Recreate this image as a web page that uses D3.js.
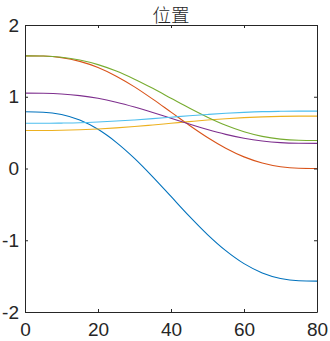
<!DOCTYPE html>
<html>
<head>
<meta charset="utf-8">
<script src="https://cdn.jsdelivr.net/npm/d3@7"></script>
<style>
  html, body { margin: 0; padding: 0; background: #fff; }
  svg { display: block; }
  .tick text { font-family: "Liberation Sans", Arial, sans-serif; font-size: 19px; fill: #262626; }
</style>
</head>
<body>
<svg id="chart" width="330" height="341"></svg>
<script>
// Sample instants (x axis)
const xs = [0, 5, 10, 15, 20, 25, 30, 35, 40, 45, 50, 55, 60, 65, 70, 75, 80];

// Joint positions, one array per joint
const joint1 = [0.79, 0.785, 0.752, 0.675, 0.546, 0.365, 0.141, -0.116, -0.39, -0.664, -0.921, -1.145, -1.326, -1.455, -1.532, -1.565, -1.57];
const joint2 = [1.57, 1.567, 1.545, 1.493, 1.408, 1.287, 1.138, 0.967, 0.785, 0.603, 0.432, 0.283, 0.162, 0.077, 0.025, 0.003, 0.0];
const joint3 = [0.53, 0.530, 0.533, 0.540, 0.551, 0.566, 0.585, 0.607, 0.63, 0.653, 0.675, 0.694, 0.709, 0.720, 0.727, 0.730, 0.73];
const joint4 = [1.05, 1.048, 1.039, 1.016, 0.978, 0.924, 0.857, 0.781, 0.70, 0.619, 0.543, 0.476, 0.422, 0.384, 0.361, 0.352, 0.35];
const joint5 = [1.57, 1.567, 1.551, 1.512, 1.448, 1.358, 1.245, 1.117, 0.98, 0.843, 0.715, 0.602, 0.512, 0.448, 0.409, 0.393, 0.39];
const joint6 = [0.63, 0.630, 0.633, 0.638, 0.648, 0.661, 0.677, 0.695, 0.715, 0.735, 0.753, 0.769, 0.782, 0.792, 0.797, 0.800, 0.80];

const seriesList = [joint1, joint2, joint3, joint4, joint5, joint6];
const colors = ["#0072BD", "#D95319", "#EDB120", "#7E2F8E", "#77AC30", "#4DBEEE"];

const xTicks = [0, 20, 40, 60, 80];
const xTickLabels = ["0", "20", "40", "60", "80"];
const yTicks = [-2, -1, 0, 1, 2];
const yTickLabels = ["-2", "-1", "0", "1", "2"];
const title = "位置";

const plotLeft = 25, plotRight = 317, plotTop = 25, plotBottom = 312;
const svg = d3.select("#chart");

const x = d3.scaleLinear().domain([0, 80]).range([plotLeft, plotRight]);
const y = d3.scaleLinear().domain([-2, 2]).range([plotBottom, plotTop]);

// Curves
const line = d3.line()
  .x((d, i) => x(xs[i]))
  .y(d => y(d))
  .curve(d3.curveMonotoneX);

svg.append("defs").append("clipPath").attr("id", "plotclip")
  .append("rect").attr("x", plotLeft).attr("y", plotTop)
  .attr("width", plotRight - plotLeft).attr("height", plotBottom - plotTop);

const g = svg.append("g").attr("clip-path", "url(#plotclip)");
seriesList.forEach((s, i) => {
  g.append("path")
    .datum(s)
    .attr("d", line)
    .attr("fill", "none")
    .attr("stroke", colors[i])
    .attr("stroke-width", 1.1);
});

// Axes: ticks point inward on all four sides
function styleAxis(sel) {
  sel.selectAll(".domain").attr("stroke", "#262626").attr("stroke-width", 1);
  sel.selectAll(".tick line").attr("stroke", "#262626");
}

svg.append("g")
  .attr("transform", `translate(0,${plotBottom})`)
  .call(d3.axisBottom(x).tickValues(xTicks)
    .tickFormat((d, i) => xTickLabels[i])
    .tickSizeInner(-3).tickSizeOuter(0).tickPadding(11))
  .call(styleAxis);

svg.append("g")
  .attr("transform", `translate(0,${plotTop})`)
  .call(d3.axisTop(x).tickValues(xTicks).tickFormat("")
    .tickSizeInner(-3).tickSizeOuter(0))
  .call(styleAxis);

svg.append("g")
  .attr("transform", `translate(${plotLeft},0)`)
  .call(d3.axisLeft(y).tickValues(yTicks)
    .tickFormat((d, i) => yTickLabels[i])
    .tickSizeInner(-3).tickSizeOuter(0).tickPadding(6))
  .call(styleAxis);

svg.append("g")
  .attr("transform", `translate(${plotRight},0)`)
  .call(d3.axisRight(y).tickValues(yTicks).tickFormat("")
    .tickSizeInner(-3).tickSizeOuter(0))
  .call(styleAxis);

svg.selectAll(".tick text").attr("fill", "#262626");

// Title
svg.append("text")
  .attr("x", (plotLeft + plotRight) / 2)
  .attr("y", 21.5)
  .attr("text-anchor", "middle")
  .attr("font-family", "'Noto Sans CJK SC', sans-serif")
  .attr("font-weight", 300)
  .attr("font-size", 18.5)
  .attr("fill", "#262626")
  .text(title);
</script>
</body>
</html>
